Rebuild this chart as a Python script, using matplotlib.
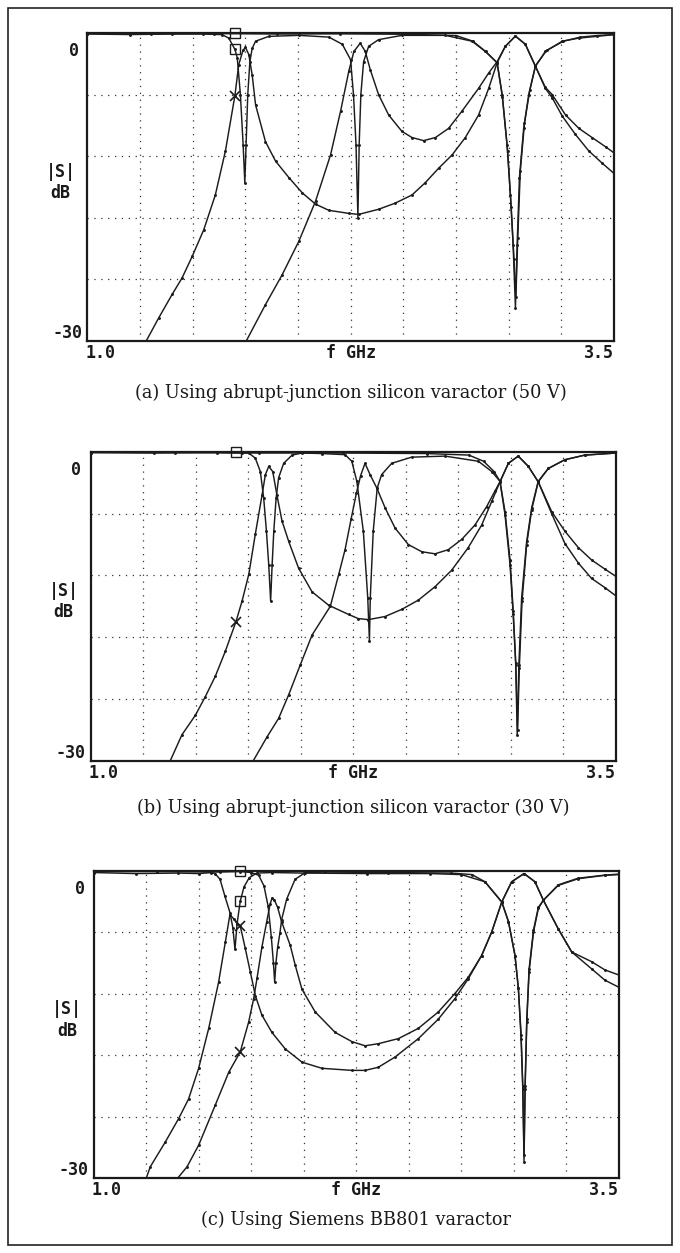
import matplotlib
matplotlib.use("Agg")
import matplotlib.pyplot as plt
from matplotlib.patches import Rectangle

# ---------------- data (GHz, dB) ----------------
# Panel (a): abrupt-junction silicon varactor, 50 V
A_T1_F = [1.28, 1.338, 1.402, 1.449, 1.497, 1.552, 1.607, 1.655, 1.70, 1.718, 1.738, 1.750, 1.766, 1.782, 1.798,
          1.845, 1.893, 1.956, 2.020, 2.083, 2.146, 2.241, 2.287, 2.382, 2.461, 2.541, 2.604, 2.667, 2.731, 2.794,
          2.857, 2.905, 2.945, 2.984, 3.032, 3.079, 3.127, 3.174, 3.206, 3.254, 3.317, 3.380, 3.444, 3.5]
A_T1_DB = [-30, -27.8, -25.5, -23.9, -21.8, -19.2, -15.8, -11.5, -6.1, -3.1, -1.7, -1.4, -2.1, -4.1, -7.0,
           -10.6, -12.5, -14.1, -15.6, -16.7, -17.3, -17.6, -17.7, -17.2, -16.6, -15.8, -14.6, -13.2, -11.9, -10.2,
           -8.0, -5.4, -2.9, -1.3, -0.3, -1.1, -3.25, -5.4, -6.3, -8.1, -9.9, -11.5, -12.7, -13.7]
A_T2_F = [1.755, 1.845, 1.924, 2.004, 2.083, 2.154, 2.202, 2.241, 2.265, 2.295, 2.319, 2.343, 2.382, 2.430, 2.493,
          2.541, 2.596, 2.652, 2.715, 2.779, 2.857, 2.905, 2.945, 2.984, 3.032, 3.079, 3.127, 3.174, 3.206, 3.270,
          3.333, 3.396, 3.460, 3.5]
A_T2_DB = [-30, -26.5, -23.6, -20.3, -16.4, -11.9, -7.6, -3.7, -1.8, -1.0, -1.8, -3.6, -6.0, -8.0, -9.6,
           -10.2, -10.5, -10.2, -9.3, -7.6, -5.4, -3.9, -2.8, -1.3, -0.3, -1.1, -3.25, -5.3, -6.0, -8.0,
           -9.3, -10.2, -11.1, -11.7]
A_R1_F = [1.0, 1.2, 1.4, 1.55, 1.639, 1.671, 1.70, 1.711, 1.726, 1.739, 1.747, 1.753, 1.761, 1.771, 1.782, 1.798,
          1.861, 2.004, 2.146, 2.21, 2.249, 2.263, 2.275, 2.284, 2.290, 2.298, 2.311, 2.335, 2.382, 2.493, 2.699,
          2.826, 2.889, 2.945, 2.969, 2.992, 3.008, 3.021, 3.032, 3.040, 3.051, 3.071, 3.095, 3.127, 3.174, 3.254,
          3.333, 3.5]
A_R1_DB = [-0.1, -0.15, -0.1, -0.1, -0.16, -0.5, -1.6, -2.4, -6.0, -10.9, -14.6, -10.9, -6.0, -2.8, -1.5, -0.8,
           -0.33, -0.23, -0.4, -1.1, -2.6, -6.0, -10.9, -18.0, -10.9, -6.0, -2.8, -1.3, -0.65, -0.23, -0.23,
           -0.8, -1.8, -2.9, -6.0, -10.9, -15.8, -20.7, -26.8, -20.7, -14.1, -9.3, -6.0, -3.25, -1.8, -0.8,
           -0.5, -0.16]
A_R2_F = [1.0, 1.3, 1.6, 1.9, 2.2, 2.5, 2.75, 2.83, 2.89, 2.945, 2.97, 2.995, 3.012, 3.025, 3.034, 3.043, 3.055,
          3.075, 3.10, 3.127, 3.18, 3.26, 3.34, 3.42, 3.5]
A_R2_DB = [-0.05, -0.08, -0.05, -0.1, -0.08, -0.12, -0.25, -0.8, -1.8, -2.9, -6.2, -11.5, -17.0, -22.0, -25.8,
           -20.0, -13.5, -8.8, -5.6, -3.2, -1.7, -0.8, -0.4, -0.25, -0.15]
A_MARK_F = 1.70
A_SQ_DB = [0.0, -1.6]
A_X_DB = [-6.1]

# Panel (b): abrupt-junction silicon varactor, 30 V
B_T1_F = [1.38, 1.435, 1.499, 1.546, 1.594, 1.641, 1.692, 1.721, 1.753, 1.784, 1.816, 1.832, 1.848, 1.867, 1.887,
          1.911, 1.943, 1.990, 2.054, 2.133, 2.228, 2.274, 2.322, 2.401, 2.481, 2.560, 2.639, 2.718, 2.797, 2.861,
          2.909, 2.948, 2.988, 3.035, 3.083, 3.130, 3.194, 3.257, 3.321, 3.384, 3.448, 3.5]
B_T1_DB = [-30, -27.5, -25.6, -23.8, -21.8, -19.4, -16.5, -14.5, -11.9, -8.0, -4.2, -2.2, -1.4, -1.9, -4.2,
           -6.7, -8.7, -11.3, -13.6, -14.9, -15.8, -16.2, -16.3, -16.0, -15.3, -14.4, -13.1, -11.5, -9.3, -7.1,
           -4.8, -2.9, -1.1, -0.4, -1.4, -2.9, -6.0, -8.9, -10.8, -12.3, -13.2, -14.0]
B_T2_F = [1.775, 1.840, 1.895, 1.943, 1.998, 2.054, 2.141, 2.181, 2.211, 2.24, 2.265, 2.285, 2.306, 2.330, 2.362,
          2.401, 2.449, 2.512, 2.576, 2.639, 2.702, 2.766, 2.829, 2.885, 2.924, 2.948, 2.988, 3.035, 3.083, 3.130,
          3.194, 3.257, 3.321, 3.384, 3.448, 3.5]
B_T2_DB = [-30, -27.7, -25.9, -23.6, -20.7, -17.8, -15.0, -11.9, -9.5, -6.5, -4.0, -2.3, -1.1, -2.2, -3.5,
           -5.4, -7.4, -9.0, -9.7, -9.9, -9.5, -8.5, -7.1, -5.3, -3.8, -2.9, -1.1, -0.4, -1.4, -2.9,
           -5.8, -7.7, -9.3, -10.5, -11.4, -12.1]
B_R1_F = [1.0, 1.3, 1.6, 1.72, 1.753, 1.784, 1.808, 1.824, 1.837, 1.848, 1.857, 1.864, 1.872, 1.883, 1.895, 1.919,
          1.959, 2.006, 2.1, 2.211, 2.243, 2.267, 2.298, 2.319, 2.327, 2.331, 2.345, 2.364, 2.385, 2.433, 2.528,
          2.687, 2.845, 2.909, 2.948, 2.972, 2.996, 3.011, 3.023, 3.030, 3.038, 3.051, 3.075, 3.099, 3.130, 3.178,
          3.257, 3.352, 3.5]
B_R1_DB = [-0.05, -0.1, -0.05, -0.1, -0.1, -0.6, -1.9, -4.5, -7.7, -11.0, -14.5, -11.0, -7.7, -4.5, -2.5, -1.1,
           -0.3, -0.1, -0.15, -0.26, -0.9, -2.85, -7.7, -14.2, -18.4, -14.2, -7.7, -3.5, -2.2, -1.1, -0.5,
           -0.4, -0.9, -1.9, -2.85, -6.1, -11.0, -15.8, -20.7, -27.5, -20.7, -14.2, -8.7, -5.4, -2.85, -1.6,
           -0.75, -0.3, -0.1]
B_R2_F = [1.0, 1.4, 1.8, 2.2, 2.6, 2.8, 2.87, 2.92, 2.948, 2.972, 2.996, 3.011, 3.023, 3.032, 3.040, 3.053, 3.075,
          3.099, 3.130, 3.178, 3.257, 3.352, 3.5]
B_R2_DB = [-0.05, -0.05, -0.1, -0.1, -0.15, -0.3, -0.9, -1.9, -2.85, -5.8, -10.5, -15.5, -20.5, -27.0, -21.0,
           -14.5, -9.0, -5.6, -2.9, -1.6, -0.75, -0.3, -0.1]
B_MARK_F = 1.69
B_SQ_DB = [0.0]
B_X_DB = [-16.5]

# Panel (c): Siemens BB801 varactor
C_T1_F = [1.25, 1.269, 1.340, 1.404, 1.451, 1.499, 1.547, 1.594, 1.626, 1.648, 1.665, 1.697, 1.721, 1.745, 1.769,
          1.800, 1.848, 1.911, 1.991, 2.086, 2.229, 2.291, 2.354, 2.434, 2.545, 2.640, 2.719, 2.783, 2.846, 2.894,
          2.942, 2.989, 3.048, 3.100, 3.140, 3.211, 3.275, 3.370, 3.433, 3.5]
C_T1_DB = [-30, -28.9, -26.5, -24.2, -22.3, -19.3, -15.4, -10.9, -7.0, -4.3, -4.7, -5.4, -7.6, -9.9, -12.2,
           -14.1, -15.8, -17.4, -18.7, -19.3, -19.5, -19.5, -19.2, -18.2, -16.4, -14.5, -12.5, -10.55, -8.3, -6.0,
           -3.07, -1.1, -0.3, -1.1, -2.9, -5.7, -7.95, -9.6, -10.7, -11.4]
C_T2_F = [1.40, 1.444, 1.499, 1.578, 1.642, 1.697, 1.737, 1.761, 1.777, 1.800, 1.823, 1.839, 1.849, 1.860, 1.875,
          1.894, 1.935, 1.959, 1.991, 2.054, 2.149, 2.229, 2.291, 2.354, 2.450, 2.545, 2.640, 2.719, 2.783, 2.846,
          2.894, 2.942, 2.989, 3.048, 3.100, 3.140, 3.211, 3.275, 3.370, 3.433, 3.5]
C_T2_DB = [-30, -28.9, -26.8, -22.9, -19.7, -17.7, -14.8, -12.5, -10.5, -7.5, -5.0, -3.3, -2.65, -2.9, -3.6,
           -5.0, -7.3, -9.25, -11.6, -13.8, -15.8, -16.7, -17.1, -16.9, -16.4, -15.4, -13.8, -12.0, -10.4, -8.3,
           -6.0, -3.07, -1.1, -0.3, -1.1, -2.9, -5.7, -7.95, -8.9, -9.7, -10.2]
C_R1_F = [1.0, 1.2, 1.4, 1.5, 1.56, 1.577, 1.601, 1.624, 1.648, 1.662, 1.672, 1.682, 1.697, 1.715, 1.74, 1.776,
          1.85, 2.0, 2.3, 2.6, 2.75, 2.862, 2.942, 2.974, 3.005, 3.021, 3.034, 3.042, 3.048, 3.053, 3.061, 3.072,
          3.093, 3.116, 3.140, 3.211, 3.306, 3.433, 3.5]
C_R1_DB = [-0.2, -0.3, -0.25, -0.3, -0.2, -0.3, -0.86, -2.5, -4.1, -5.6, -7.7, -5.2, -3.0, -1.6, -0.7, -0.25,
           -0.2, -0.25, -0.3, -0.3, -0.4, -1.1, -3.07, -5.0, -8.3, -11.5, -16.4, -21.3, -28.4, -21.3, -14.8, -9.9,
           -6.0, -3.7, -2.9, -1.45, -0.8, -0.47, -0.4]
C_R2_F = [1.0, 1.3, 1.6, 1.697, 1.75, 1.785, 1.810, 1.830, 1.845, 1.855, 1.861, 1.867, 1.875, 1.886, 1.894, 1.918,
          1.958, 2.006, 2.1, 2.4, 2.7, 2.8, 2.862, 2.942, 2.974, 3.005, 3.021, 3.034, 3.042, 3.048, 3.053, 3.061,
          3.072, 3.093, 3.116, 3.140, 3.211, 3.306, 3.433, 3.5]
C_R2_DB = [-0.1, -0.1, -0.15, -0.1, -0.2, -0.47, -1.5, -3.5, -6.5, -9.0, -10.9, -9.0, -7.5, -6.1, -4.8, -2.8,
           -0.86, -0.21, -0.15, -0.2, -0.25, -0.4, -1.1, -3.07, -5.0, -8.3, -11.5, -16.0, -21.0, -27.8, -21.0,
           -14.5, -9.6, -5.8, -3.6, -2.9, -1.4, -0.75, -0.45, -0.35]
C_MARK_F = 1.697
C_SQ_DB = [0.0, -3.0]
C_X_DB = [-5.4, -17.7]

CAPTIONS = ["(a) Using abrupt-junction silicon varactor (50 V)",
            "(b) Using abrupt-junction silicon varactor (30 V)",
            "(c) Using Siemens BB801 varactor"]
F_MIN, F_MAX = 1.0, 3.5
DB_MIN, DB_MAX = -30, 0
X_GRID = [1.25, 1.5, 1.75, 2.0, 2.25, 2.5, 2.75, 3.0, 3.25]
Y_GRID = [-6, -12, -18, -24]

# ---------------- layout (pixels) ----------------
W, H = 680, 1253
BOXES = [(87.5, 33.0, 614.0, 340.5),
         (90.5, 452.0, 616.0, 760.5),
         (93.8, 870.5, 619.0, 1178.0)]
CAP_Y = [393, 808, 1220]

fig = plt.figure(figsize=(W / 100, H / 100), dpi=100)
fig.patch.set_facecolor("white")
fig.patches.append(Rectangle((8 / W, 1 - 1245 / H), (672 - 8) / W, (1245 - 8) / H,
                             transform=fig.transFigure, fill=False, lw=1.2, ec="#222222"))

mono = dict(family="DejaVu Sans Mono", weight="bold", size=12, color="#1a1a1a")
serif = dict(family="DejaVu Serif", size=12.8, color="#1a1a1a")


def ftext(x, y, s, **kw):
    fig.text(x / W, 1 - y / H, s, **kw)


panels = [
    (A_T1_F, A_T1_DB, A_T2_F, A_T2_DB, A_R1_F, A_R1_DB, A_R2_F, A_R2_DB, A_MARK_F, A_SQ_DB, A_X_DB),
    (B_T1_F, B_T1_DB, B_T2_F, B_T2_DB, B_R1_F, B_R1_DB, B_R2_F, B_R2_DB, B_MARK_F, B_SQ_DB, B_X_DB),
    (C_T1_F, C_T1_DB, C_T2_F, C_T2_DB, C_R1_F, C_R1_DB, C_R2_F, C_R2_DB, C_MARK_F, C_SQ_DB, C_X_DB),
]

for i, (box, pdata) in enumerate(zip(BOXES, panels)):
    l, t, r, b = box
    ax = fig.add_axes([l / W, 1 - b / H, (r - l) / W, (b - t) / H])
    ax.set_xlim(F_MIN, F_MAX)
    ax.set_ylim(DB_MIN, DB_MAX)
    for xg in X_GRID:
        ax.axvline(xg, color="#333333", lw=0.9, ls=(0, (1, 4.5)), zorder=1)
    for yg in Y_GRID:
        ax.axhline(yg, color="#333333", lw=0.9, ls=(0, (1, 4.5)), zorder=1)
    t1f, t1d, t2f, t2d, r1f, r1d, r2f, r2d, mf, sq, xx = pdata
    for fx, dy in ((t1f, t1d), (t2f, t2d), (r1f, r1d), (r2f, r2d)):
        ax.plot(fx, dy, color="#1c1c1c", lw=1.05, marker="o", ms=1.1, zorder=3, clip_on=True)
    ax.plot([mf] * len(sq), sq, ls="none", marker="s", ms=7, mfc="none", mec="#1c1c1c", mew=1.0,
            zorder=4, clip_on=False)
    ax.plot([mf] * len(xx), xx, ls="none", marker="x", ms=7, mec="#1c1c1c", mew=1.2, zorder=4)
    ax.set_xticks([])
    ax.set_yticks([])
    for sp in ax.spines.values():
        sp.set_linewidth(1.6)
        sp.set_color("#1a1a1a")

    # axis texts
    ftext(l - 14, t + 18, "0", ha="center", va="center", **mono)
    ftext(l - 5, b - 8, "-30", ha="right", va="center", **mono)
    ftext(l - 27, t + 139, "|S|", ha="center", va="center", **mono)
    ftext(l - 27, t + 160, "dB", ha="center", va="center", **mono)
    ftext(l - 2, b + 12, "1.0", ha="left", va="center", **mono)
    ftext(r, b + 12, "3.5", ha="right", va="center", **mono)
    ftext((l + r) / 2, b + 12, "f GHz", ha="center", va="center", **mono)
    ftext((l + r) / 2, CAP_Y[i], CAPTIONS[i], ha="center", va="center", **serif)

fig.savefig("out.png", dpi=100, facecolor="white")
